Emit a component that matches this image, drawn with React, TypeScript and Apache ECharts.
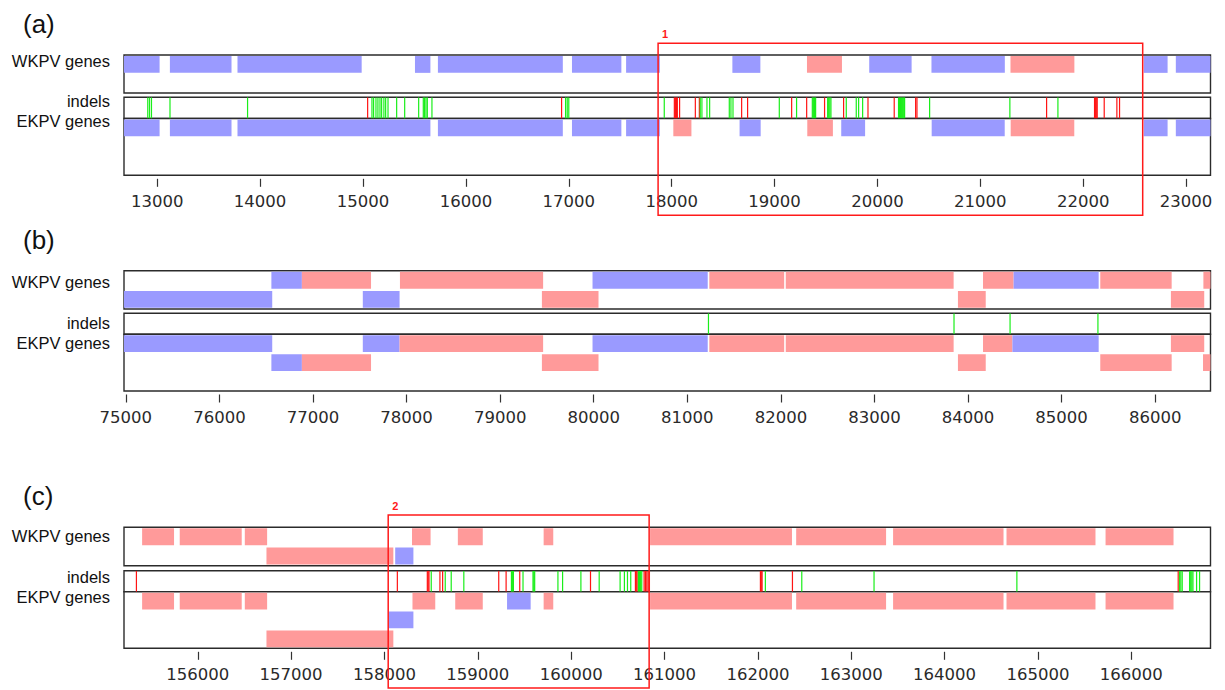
import React, { useEffect, useRef } from "react";
import * as echarts from "echarts";

const BLUE = "#9a9aff";
const PINK = "#ff9a9a";
const GREEN = "#1aee1a";
const RED = "#ff1414";

// genes: [start, end, row, kind]  kind 0 = blue, 1 = pink
// indels: [position, kind]       kind 0 = green, 1 = red

// ---------- panel (a) ----------
const rangeA = [12677, 23237];
const ticksA = [13000, 14000, 15000, 16000, 17000, 18000, 19000, 20000, 21000, 22000, 23000];
const wkpvA = [
  [12677, 13023, 0, 0], [13123, 13722, 0, 0], [13780, 14987, 0, 0], [15505, 15655, 0, 0],
  [15728, 16942, 0, 0], [17031, 17511, 0, 0], [17557, 17885, 0, 0], [18590, 18862, 0, 0],
  [19315, 19655, 0, 1], [19920, 20332, 0, 0], [20525, 21238, 0, 0], [21293, 21914, 0, 1],
  [22588, 22820, 0, 0], [22900, 23237, 0, 0],
];
const ekpvA = [
  [12677, 13023, 0, 0], [13123, 13722, 0, 0], [13780, 15655, 0, 0], [15728, 16942, 0, 0],
  [17031, 17511, 0, 0], [17557, 17885, 0, 0], [18016, 18192, 0, 1], [18660, 18865, 0, 0],
  [19318, 19567, 0, 1], [19648, 19880, 0, 0], [20527, 21237, 0, 0], [21295, 21913, 0, 1],
  [22588, 22820, 0, 0], [22900, 23237, 0, 0],
];
const indelsA = [
  [12908, 0], [12925, 0], [12944, 0], [13124, 0], [13878, 0],
  [15045, 1], [15087, 0], [15103, 0], [15126, 0], [15145, 0], [15165, 0], [15181, 0], [15203, 0],
  [15220, 0], [15243, 0], [15327, 0], [15405, 0], [15541, 0], [15586, 0], [15598, 0], [15612, 0],
  [15625, 0], [15670, 0],
  [16930, 1], [16969, 0], [16985, 0], [17000, 0],
  [17928, 0], [18026, 1], [18036, 1], [18046, 1], [18055, 1], [18077, 1],
  [18230, 1], [18269, 1], [18278, 0], [18294, 0], [18343, 0], [18369, 0],
  [18560, 0], [18576, 0], [18596, 0], [18680, 1], [18738, 1],
  [19046, 0], [19166, 1], [19214, 0], [19312, 1], [19367, 0], [19377, 0], [19388, 0], [19399, 0],
  [19486, 1], [19516, 0], [19526, 0], [19537, 0], [19548, 0], [19671, 1], [19697, 0],
  [19794, 0], [19817, 0], [19856, 0], [19908, 1],
  [20163, 1], [20205, 0], [20215, 0], [20225, 0], [20235, 0], [20245, 0], [20255, 0], [20264, 0],
  [20371, 1], [20384, 1], [20507, 0], [21287, 0], [21644, 1], [21754, 0],
  [22110, 1], [22118, 1], [22127, 1], [22136, 1], [22204, 1], [22327, 1], [22353, 1],
];
const boxA = [17868, 22578];

// ---------- panel (b) ----------
const rangeB = [74980, 86591];
const ticksB = [75000, 76000, 77000, 78000, 79000, 80000, 81000, 82000, 83000, 84000, 85000, 86000];
const wkpvB = [
  [76555, 76881, 0, 0], [76881, 77620, 0, 1], [77929, 79459, 0, 1], [79987, 81218, 0, 0],
  [81235, 82035, 0, 1], [82052, 83846, 0, 1], [84160, 84487, 0, 1], [84487, 85396, 0, 0],
  [85413, 86176, 0, 1], [86515, 86591, 0, 1],
  [74980, 76564, 1, 0], [77532, 77925, 1, 0], [79446, 80051, 1, 1], [83892, 84189, 1, 1],
  [86168, 86524, 1, 1],
];
const ekpvB = [
  [74980, 76564, 0, 0], [77532, 77925, 0, 0], [77925, 79459, 0, 1], [79987, 81218, 0, 0],
  [81235, 82035, 0, 1], [82052, 83846, 0, 1], [84160, 84474, 0, 1], [84474, 85396, 0, 0],
  [86168, 86524, 0, 1],
  [76555, 76881, 1, 0], [76881, 77620, 1, 1], [79446, 80051, 1, 1], [83892, 84189, 1, 1],
  [85413, 86176, 1, 1], [86511, 86591, 1, 1],
];
const indelsB = [[81226, 0], [83850, 0], [84449, 0], [85388, 0]];

// ---------- panel (c) ----------
const rangeC = [155210, 166848];
const ticksC = [156000, 157000, 158000, 159000, 160000, 161000, 162000, 163000, 164000, 165000, 166000];
const wkpvC = [
  [155404, 155746, 0, 1], [155807, 156471, 0, 1], [156504, 156743, 0, 1], [158295, 158494, 0, 1],
  [158786, 159053, 0, 1], [159705, 159808, 0, 1], [160845, 162365, 0, 1], [162410, 163373, 0, 1],
  [163448, 164631, 0, 1], [164663, 165616, 0, 1], [165724, 166452, 0, 1],
  [156736, 158095, 1, 1], [158115, 158310, 1, 0],
];
const ekpvC = [
  [155404, 155746, 0, 1], [155807, 156471, 0, 1], [156504, 156743, 0, 1], [158300, 158544, 0, 1],
  [158758, 159053, 0, 1], [159313, 159566, 0, 0], [159705, 159808, 0, 1], [160845, 162365, 0, 1],
  [162410, 163373, 0, 1], [163448, 164631, 0, 1], [164663, 165616, 0, 1], [165724, 166452, 0, 1],
  [158045, 158310, 1, 0],
  [156736, 158095, 2, 1],
];
const indelsC = [
  [155343, 1], [158138, 1], [158459, 1], [158468, 1], [158477, 1], [158501, 0],
  [158594, 1], [158623, 1], [158651, 0], [158715, 0], [158850, 0],
  [159224, 1], [159303, 1], [159360, 0], [159370, 0], [159381, 0], [159449, 1], [159484, 0],
  [159591, 0], [159600, 0], [159609, 0], [159858, 0], [159908, 0],
  [160104, 0], [160207, 1], [160300, 0],
  [160524, 0], [160570, 0], [160603, 0], [160638, 0], [160688, 1], [160697, 1], [160706, 1],
  [160720, 0], [160732, 0], [160744, 0], [160756, 0],
  [160781, 1], [160795, 1], [160810, 1], [160824, 1], [160838, 1],
  [162027, 1], [162036, 1], [162045, 1], [162080, 0], [162370, 1], [162470, 0],
  [163244, 0], [164774, 0],
  [166502, 1], [166516, 0], [166530, 0], [166545, 0], [166624, 0], [166636, 0], [166648, 0],
  [166660, 0], [166699, 0], [166731, 0],
];
const boxC = [158040, 160835];

const panelNames = ["(a)", "(b)", "(c)"];
const rowLabels = ["WKPV genes", "indels", "EKPV genes"];

const geneItem = (params: any, api: any) => {
  const s = api.value(0);
  const e = api.value(1);
  const row = api.value(2);
  const kind = api.value(3);
  const a = api.coord([s, row]);
  const b = api.coord([e, row + 1]);
  const h = b[1] - a[1];
  return {
    type: "rect",
    shape: { x: a[0], y: a[1] + h * 0.055, width: b[0] - a[0], height: h * 0.885 },
    style: { fill: kind === 1 ? PINK : BLUE },
  };
};

const indelItem = (params: any, api: any) => {
  const x = api.value(0);
  const k = api.value(1);
  const a = api.coord([x, 0]);
  const b = api.coord([x, 1]);
  return {
    type: "line",
    shape: { x1: a[0], y1: a[1], x2: b[0], y2: b[1] },
    style: { stroke: k === 1 ? RED : GREEN, lineWidth: 1.2 },
  };
};

const makeBoxItem = (label: string) => (params: any, api: any) => {
  const a = api.coord([api.value(0), 0]);
  const b = api.coord([api.value(1), 1]);
  return {
    type: "group",
    children: [
      {
        type: "rect",
        shape: { x: a[0], y: a[1], width: b[0] - a[0], height: b[1] - a[1] },
        style: { fill: "none", stroke: "#ff1a1a", lineWidth: 1.5 },
      },
      {
        type: "text",
        x: a[0] + 4,
        y: a[1] - 4,
        style: {
          text: label,
          fill: "#ff1a1a",
          fontSize: 11,
          fontWeight: "bold",
          fontFamily: "Liberation Sans",
          verticalAlign: "bottom",
          align: "left",
        },
      },
    ],
  };
};

export default function App() {
  const ref = useRef<HTMLDivElement>(null);
  useEffect(() => {
    document.body.style.margin = "0";
    if (!ref.current) return;
    const chart = echarts.init(ref.current, undefined, { renderer: "svg" });

    const LEFT = 124;
    const RIGHT = 1225 - 1210.5;
    const layouts = [
      { w: 55, wh: 38, i: 97.3, ih: 21.2, e: 118.5, eh: 56.8, lab: [61, 101, 121], ov: [43.3, 172] },
      { w: 270.7, wh: 38.3, i: 313.3, ih: 21, e: 334.3, eh: 56.7, lab: [282.3, 322.7, 342.7], ov: null },
      { w: 527.3, wh: 38.4, i: 570.7, ih: 21, e: 591.7, eh: 56.6, lab: [536, 576.7, 596.7], ov: [515, 173] },
    ];
    const panels = [
      { range: rangeA, ticks: ticksA, wkpv: wkpvA, ekpv: ekpvA, indels: indelsA, box: boxA, boxLabel: "1" },
      { range: rangeB, ticks: ticksB, wkpv: wkpvB, ekpv: ekpvB, indels: indelsB, box: null, boxLabel: "" },
      { range: rangeC, ticks: ticksC, wkpv: wkpvC, ekpv: ekpvC, indels: indelsC, box: boxC, boxLabel: "2" },
    ];

    const grid: any[] = [];
    const xAxis: any[] = [];
    const yAxis: any[] = [];
    const series: any[] = [];
    const graphic: any[] = [];

    const frameGrid = (top: number, height: number) => ({
      left: LEFT,
      right: RIGHT,
      top,
      height,
      show: true,
      backgroundColor: "#fff",
      borderColor: "#2b2b2b",
      borderWidth: 1.4,
    });
    const hiddenX = (range: number[]) => ({
      type: "value",
      min: range[0],
      max: range[1],
      show: false,
      axisLine: { show: false, onZero: false },
      axisTick: { show: false },
      axisLabel: { show: false },
      splitLine: { show: false },
    });
    const hiddenY = (max: number) => ({
      type: "value",
      min: 0,
      max,
      inverse: true,
      show: false,
      axisLine: { show: false, onZero: false },
      axisTick: { show: false },
      axisLabel: { show: false },
      splitLine: { show: false },
    });

    panels.forEach((p, pi) => {
      const L = layouts[pi];
      // WKPV
      const gW = grid.length;
      grid.push(frameGrid(L.w, L.wh));
      xAxis.push({ ...hiddenX(p.range), gridIndex: gW });
      yAxis.push({ ...hiddenY(2), gridIndex: gW });
      series.push({
        type: "custom",
        xAxisIndex: gW,
        yAxisIndex: gW,
        renderItem: geneItem,
        data: p.wkpv,
        encode: { x: [0, 1], y: 2 },
        clip: true,
        silent: true,
      });
      // indels
      const gI = grid.length;
      grid.push(frameGrid(L.i, L.ih));
      xAxis.push({ ...hiddenX(p.range), gridIndex: gI });
      yAxis.push({ ...hiddenY(1), gridIndex: gI });
      series.push({
        type: "custom",
        xAxisIndex: gI,
        yAxisIndex: gI,
        renderItem: indelItem,
        data: p.indels,
        encode: { x: 0 },
        clip: true,
        silent: true,
      });
      // EKPV
      const gE = grid.length;
      grid.push(frameGrid(L.e, L.eh));
      xAxis.push({
        type: "value",
        gridIndex: gE,
        min: p.range[0],
        max: p.range[1],
        position: "bottom",
        offset: 3.5,
        splitLine: { show: false },
        axisLine: { show: false, onZero: false },
        axisTick: {
          show: true,
          length: 8,
          customValues: p.ticks,
          lineStyle: { color: "#333", width: 1.2 },
        },
        axisLabel: {
          show: true,
          customValues: p.ticks,
          formatter: (v: number) => String(v),
          fontFamily: "DejaVu Sans",
          fontSize: 16.5,
          color: "#2a2a2a",
          margin: 14,
        },
      });
      yAxis.push({ ...hiddenY(3), gridIndex: gE });
      series.push({
        type: "custom",
        xAxisIndex: gE,
        yAxisIndex: gE,
        renderItem: geneItem,
        data: p.ekpv,
        encode: { x: [0, 1], y: 2 },
        clip: true,
        silent: true,
      });
      // highlight box
      if (p.box && L.ov) {
        const gO = grid.length;
        grid.push({ left: LEFT, right: RIGHT, top: L.ov[0], height: L.ov[1], show: false });
        xAxis.push({ ...hiddenX(p.range), gridIndex: gO });
        yAxis.push({ ...hiddenY(1), gridIndex: gO });
        series.push({
          type: "custom",
          xAxisIndex: gO,
          yAxisIndex: gO,
          renderItem: makeBoxItem(p.boxLabel),
          data: [p.box],
          encode: { x: [0, 1] },
          z: 20,
          silent: true,
        });
      }
      // texts
      graphic.push({
        type: "text",
        left: 23,
        top: L.w - 28 - 16,
        style: {
          text: panelNames[pi],
          fontSize: 26,
          fontFamily: "Liberation Sans",
          fill: "#111",
        },
      });
      rowLabels.forEach((t, ri) => {
        graphic.push({
          type: "text",
          x: 110,
          y: L.lab[ri],
          style: {
            text: t,
            fontSize: 16.5,
            fontFamily: "Liberation Sans",
            fill: "#111",
            align: "right",
            verticalAlign: "middle",
          },
        });
      });
    });

    chart.setOption({
      animation: false,
      backgroundColor: "#fff",
      grid,
      xAxis,
      yAxis,
      series,
      graphic,
    });
    return () => chart.dispose();
  }, []);
  return <div ref={ref} style={{ width: 1225, height: 690 }} />;
}
